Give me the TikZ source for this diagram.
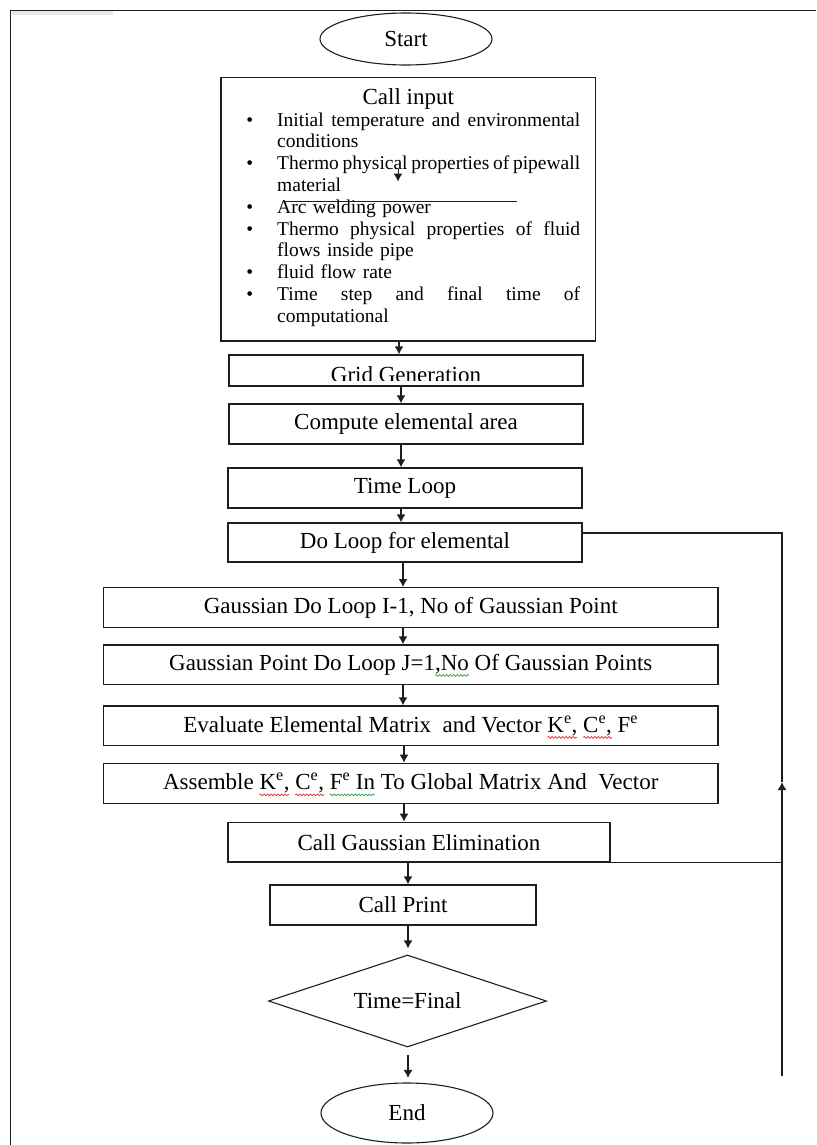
\documentclass[tikz,border=0pt]{standalone}
\usepackage{fontspec}
\setmainfont{Liberation Serif}
\usetikzlibrary{shapes.geometric,arrows.meta,calc,decorations.pathmorphing}
\definecolor{ln}{HTML}{1E1E1E}
\definecolor{spellred}{HTML}{E8262A}
\definecolor{spellgreen}{HTML}{2E9E3E}
\newcommand\BF{\fontsize{23}{27}\selectfont}
\newcommand\bul{\leavevmode\llap{\textbullet\hspace{24pt}}}
\newcommand\jline[1]{\makebox[303pt][s]{\spaceskip=.25em plus 1fil minus .08em\relax #1}}
\newlength\Wfull
\newlength\Wpre
\newlength\Wword
% #1 id, #2 full text, #3 text before the marked words, #4 marked words
\newcommand\measure[4]{%
  \settowidth\Wfull{\BF #2}\settowidth\Wpre{\BF #3}\settowidth\Wword{\BF #4}%
  \expandafter\xdef\csname sqoff#1\endcsname{\the\dimexpr\Wpre-\Wfull/2\relax}%
  \expandafter\xdef\csname sqlen#1\endcsname{\the\Wword}}
% #1 node, #2 colour, #3 id
\newcommand\squig[3]{%
  \draw[#2, line width=0.7pt, decorate, decoration={snake, amplitude=0.9pt, segment length=3.5pt}]
    ($(#1.base)+(\csname sqoff#3\endcsname,-5pt)$) -- ++(\csname sqlen#3\endcsname,0pt);}
\newcommand\Ke{K\textsuperscript{e},}
\newcommand\Ce{C\textsuperscript{e},}
\newcommand\Fe{F\textsuperscript{e}}
\newcommand\txtGtwo{Gaussian Point Do Loop J=1,No Of Gaussian Points}
\newcommand\txtEval{Evaluate Elemental Matrix\ \ and Vector \Ke\ \Ce\ \Fe}
\newcommand\txtAsm{Assemble \Ke\ \Ce\ \Fe\ In To Global Matrix And\ \ Vector}
\begin{document}
\measure{a}{\txtGtwo}{Gaussian Point Do Loop J=1}{,No}%
\measure{b}{\txtEval}{Evaluate Elemental Matrix\ \ and Vector\ }{\Ke}%
\measure{c}{\txtEval}{Evaluate Elemental Matrix\ \ and Vector \Ke\ }{\Ce}%
\measure{d}{\txtAsm}{Assemble\ }{\Ke}%
\measure{e}{\txtAsm}{Assemble \Ke\ }{\Ce}%
\measure{f}{\txtAsm}{Assemble \Ke\ \Ce\ }{\Fe\ In}%
\begin{tikzpicture}[x=1pt,y=-1pt,
  boxfont/.style={font=\BF},
  box/.style={draw=ln, line width=1.3pt, rectangle, inner sep=0pt, boxfont},
  oval/.style={draw=ln, line width=1.1pt, ellipse, inner sep=0pt, boxfont},
  arr/.style={draw=ln, line width=1.3pt, -{Latex[length=8pt,width=9pt]}},
  link/.style={draw=ln, line width=1.3pt}]
\useasboundingbox (0,0) rectangle (816,1145);
% page frame
\fill[gray!18] (11.5,11.5) rectangle (113,15);
\draw[link] (10.5,1145) -- (10.5,10.5) -- (816,10.5);

% nodes
\node[oval, minimum width=172pt, minimum height=52pt] (start) at (406,39) {Start};
\node[box, minimum width=374.5pt, minimum height=263.5pt] (input) at (408.25,209.25) {};
\node[anchor=base, boxfont, inner sep=0pt] (inputtitle) at (408.25,105) {Call input};
\node[anchor=north west, inner sep=0pt, text width=303pt, align=left,
      font=\fontsize{19.5}{21.8}\selectfont] (inputlist) at (277,110.7)
{\strut\bul\jline{Initial temperature and environmental}\\
conditions\\
\bul\jline{Thermo physical properties of pipewall}\\
material\\
\bul Arc welding power\\
\bul\jline{Thermo physical properties of fluid}\\
flows inside pipe\\
\bul fluid flow rate\\
\bul\jline{Time step and final time of}\\
computational};
% stray marks inside the input box
\coordinate (s1) at (398,169);
\coordinate (s2) at (398,181.5);
\coordinate (h1) at (285,201.7);
\coordinate (h2) at (517,201.7);
\draw[draw=ln, line width=1pt, -{Latex[length=8pt,width=9pt]}] (s1) -- (s2);
\draw[draw=ln, line width=1pt] (h1) -- (h2);

\node[box, minimum width=354pt, minimum height=31pt] (grid) at (406,370.5) {};
\begin{scope}
\clip (229,355) rectangle (583,380.5);
\node[anchor=base, boxfont, inner sep=0pt] (gridtext) at (406,382.5) {Grid Generation};
\end{scope}
\node[box, minimum width=354pt, minimum height=40pt] (compute) at (406,424) {Compute elemental area};
\node[box, minimum width=354pt, minimum height=40pt] (timeloop) at (405,488) {Time Loop};
\node[box, minimum width=354pt, minimum height=39pt] (doloop) at (405,542.5) {Do Loop for elemental};
\node[box, minimum width=614.5pt, minimum height=39.6pt] (gauss1) at (410.75,607.5) {Gaussian Do Loop I-1, No of Gaussian Point};
\node[box, minimum width=614.5pt, minimum height=39.5pt] (gauss2) at (410.75,664.75) {\txtGtwo};
\node[box, minimum width=614.5pt, minimum height=39.7pt] (eval) at (410.75,725.85) {\txtEval};
\node[box, minimum width=614.5pt, minimum height=40pt] (assemble) at (410.75,783.3) {\txtAsm};
\node[box, minimum width=382pt, minimum height=39.7pt] (callge) at (419,842.15) {Call Gaussian Elimination};
\node[box, minimum width=266pt, minimum height=40pt] (print) at (403,905) {Call Print};
\node[draw=ln, line width=1.1pt, diamond, aspect=3, minimum width=278pt, minimum height=92pt, inner sep=0pt, boxfont] (final) at (407.5,1001) {Time=Final};
\node[oval, minimum width=172pt, minimum height=60pt] (end) at (407,1113) {End};

% spell-check squiggles under words
\squig{gauss2}{spellgreen}{a}
\squig{eval}{spellred}{b}
\squig{eval}{spellred}{c}
\squig{assemble}{spellred}{d}
\squig{assemble}{spellred}{e}
\squig{assemble}{spellgreen}{f}

% arrow columns
\coordinate (a1) at (399,0);
\coordinate (a2) at (401,0);
\coordinate (a3) at (403,0);
\coordinate (a4) at (404,0);
\coordinate (a5) at (408,0);
\draw[arr] (input.south -| a1) -- (grid.north -| a1);
\draw[arr] (grid.south -| a2) -- (compute.north -| a2);
\draw[arr] (compute.south -| a2) -- (timeloop.north -| a2);
\draw[arr] (timeloop.south -| a2) -- (doloop.north -| a2);
\draw[arr] (doloop.south -| a3) -- (gauss1.north -| a3);
\draw[arr] (gauss1.south -| a3) -- (gauss2.north -| a3);
\draw[arr] (gauss2.south -| a3) -- (eval.north -| a3);
\draw[arr] (eval.south -| a4) -- (assemble.north -| a4);
\draw[arr] (assemble.south -| a4) -- (callge.north -| a4);
\draw[arr] (callge.south -| a5) -- (print.north -| a5);
\draw[arr, shorten >=6pt] (print.south -| a5) -- (final.north -| a5);
\draw[arr, shorten <=7pt, shorten >=4.5pt] (final.south -| a5) -- (end.north -| a5);

% loop-back line
\coordinate (fbtop) at (782,533);
\coordinate (fbmid) at (782,782);
\coordinate (fbbot) at (782,1076);
\draw[arr] (fbbot) -- (fbmid);
\draw[link] (fbmid) -- (fbtop) -- (fbtop -| doloop.east);
\draw[link] (callge.south east) -- (callge.south east -| fbtop);
\end{tikzpicture}
\end{document}
